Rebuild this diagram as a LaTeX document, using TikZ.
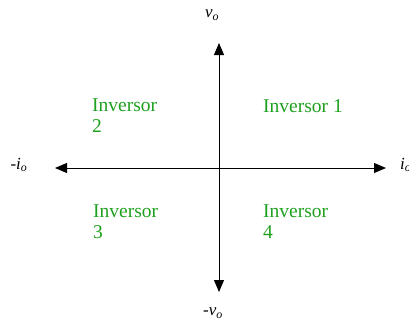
\documentclass[tikz,border=0pt]{standalone}
\usepackage{fontspec}
\setmainfont{Liberation Serif}
\usetikzlibrary{arrows.meta}
\definecolor{invgreen}{RGB}{30,160,30}
\tikzset{
  axis/.style={line width=0.9pt, black, {Triangle[length=12pt,width=10pt]}-{Triangle[length=12pt,width=10pt]}},
  quad/.style={anchor=north west, inner sep=0pt, align=left, text=invgreen, font=\fontsize{19.5}{21}\selectfont},
  axlabel/.style={inner sep=0pt, font=\fontsize{17}{19}\selectfont\itshape}
}
\begin{document}
\begin{tikzpicture}[x=1pt,y=-1pt]
\useasboundingbox (0,0) rectangle (409,324);
\coordinate (L) at (55,168);
\coordinate (R) at (386,168);
\coordinate (T) at (219,43);
\coordinate (B) at (219,292);
\draw[axis] (L) -- (R);
\draw[axis] (T) -- (B);
\node[axlabel] (vo) at (212,15) {v\textsubscript{o}};
\node[axlabel] (mvo) at (213,313) {-v\textsubscript{o}};
\node[axlabel] (mio) at (19,165) {-i\textsubscript{o}};
\node[axlabel, anchor=west] (io) at (400,165) {i\textsubscript{o}};
\node[quad] (q2) at (92,99) {Inversor\\2};
\node[quad] (q1) at (263,99) {Inversor 1};
\node[quad] (q3) at (93,205) {Inversor\\3};
\node[quad] (q4) at (263,205) {Inversor\\4};
\end{tikzpicture}
\end{document}
